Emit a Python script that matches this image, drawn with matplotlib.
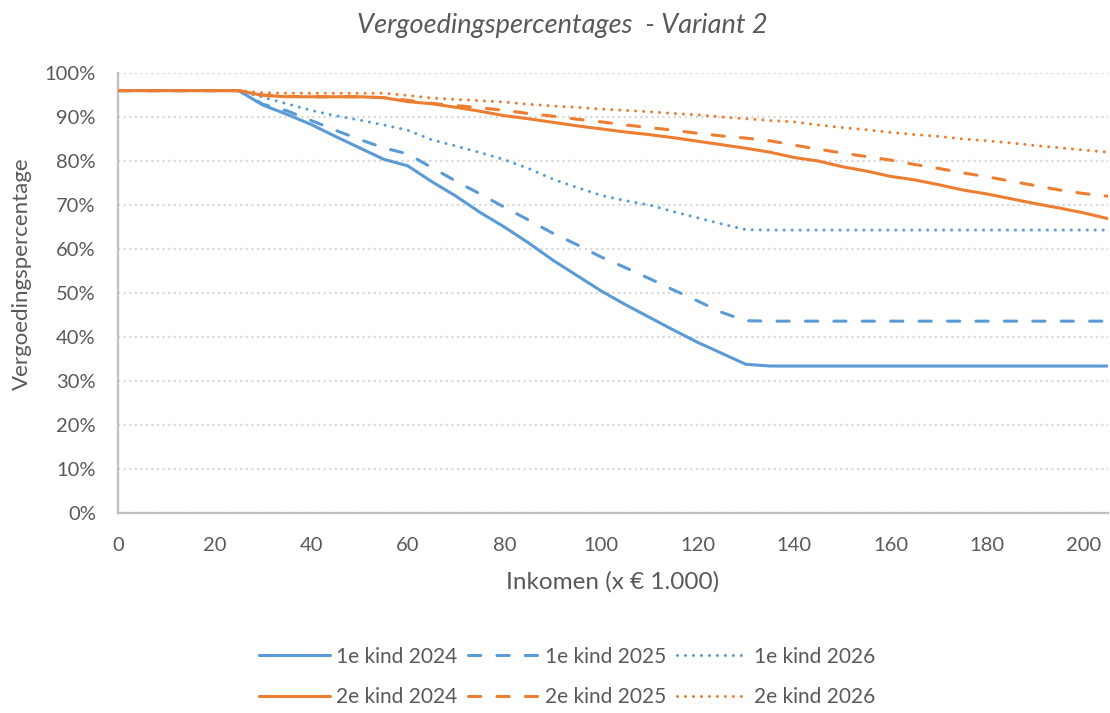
import matplotlib
matplotlib.use("Agg")
import matplotlib.pyplot as plt
from matplotlib.ticker import PercentFormatter, MultipleLocator

plt.rcParams['font.family'] = ['Lato', 'DejaVu Sans']

# Income (x € 1.000)
inkomen = [0, 25, 30, 35, 40, 45, 50, 55, 60, 65, 70, 75, 80, 85, 90, 95, 100,
           105, 110, 115, 120, 125, 130, 135, 140, 145, 150, 155, 160, 165,
           170, 175, 180, 185, 190, 195, 200, 205]

kind1_2024 = [96.0, 96.0, 92.7, 90.6, 88.3, 85.6, 83.0, 80.4, 78.9, 75.3, 72.0,
              68.3, 65.0, 61.4, 57.5, 54.0, 50.5, 47.4, 44.5, 41.6, 38.8, 36.3,
              33.8, 33.4, 33.4, 33.4, 33.4, 33.4, 33.4, 33.4, 33.4, 33.4, 33.4,
              33.4, 33.4, 33.4, 33.4, 33.4]
kind1_2025 = [96.0, 96.0, 92.9, 91.4, 89.2, 87.0, 84.9, 83.0, 81.6, 78.5, 75.4,
              72.5, 69.5, 66.6, 63.6, 61.0, 58.2, 55.8, 53.3, 50.7, 48.2, 45.6,
              43.7, 43.6, 43.6, 43.6, 43.6, 43.6, 43.6, 43.6, 43.6, 43.6, 43.6,
              43.6, 43.6, 43.6, 43.6, 43.6]
kind1_2026 = [96.0, 96.0, 94.5, 93.0, 91.5, 90.3, 89.3, 88.2, 87.0, 84.8, 83.4,
              81.9, 80.3, 78.3, 75.9, 74.0, 72.2, 71.0, 70.0, 68.5, 67.1, 65.7,
              64.4, 64.3, 64.3, 64.3, 64.3, 64.3, 64.3, 64.3, 64.3, 64.3, 64.3,
              64.3, 64.3, 64.3, 64.3, 64.3]
kind2_2024 = [96.0, 96.0, 94.9, 94.6, 94.6, 94.6, 94.6, 94.4, 93.5, 93.0, 92.2,
              91.3, 90.3, 89.6, 88.8, 88.0, 87.3, 86.6, 86.0, 85.3, 84.5, 83.7,
              82.9, 82.0, 80.8, 80.0, 78.7, 77.7, 76.5, 75.7, 74.6, 73.4, 72.5,
              71.4, 70.3, 69.3, 68.2, 66.9]
kind2_2025 = [96.0, 96.0, 95.0, 94.7, 94.6, 94.6, 94.6, 94.4, 93.8, 93.1, 92.6,
              92.1, 91.5, 90.8, 90.2, 89.5, 88.9, 88.2, 87.6, 87.0, 86.3, 85.7,
              85.2, 84.6, 83.6, 82.7, 81.8, 81.0, 80.2, 79.2, 78.3, 77.3, 76.4,
              75.4, 74.4, 73.4, 72.6, 72.0]
kind2_2026 = [96.0, 96.0, 95.5, 95.4, 95.4, 95.4, 95.4, 95.4, 94.9, 94.3, 94.0,
              93.7, 93.4, 92.9, 92.5, 92.2, 91.8, 91.5, 91.2, 90.8, 90.5, 90.0,
              89.6, 89.2, 88.9, 88.2, 87.6, 87.1, 86.5, 86.0, 85.6, 85.0, 84.6,
              84.1, 83.5, 83.0, 82.5, 82.0]

labels = ["1e kind 2024", "1e kind 2025", "1e kind 2026",
          "2e kind 2024", "2e kind 2025", "2e kind 2026"]
x_ticks = [0, 20, 40, 60, 80, 100, 120, 140, 160, 180, 200]

title = "Vergoedingspercentages  - Variant 2"
xlabel = "Inkomen (x € 1.000)"
ylabel = "Vergoedingspercentage"

BLUE = "#5B9BD5"
ORANGE = "#ED7D31"
TXT = "#595959"
GRID = "#D9D9D9"
SPINE = "#BFBFBF"

W, H = 1110, 713
fig = plt.figure(figsize=(W / 100, H / 100), dpi=100)
ax = fig.add_axes([118 / W, 1 - 513 / H, (1108 - 118) / W, (513 - 73) / H])

lw = 2.2
dash = (4.0, 5.3)
dot = (0.01, 2.6)
series = [kind1_2024, kind1_2025, kind1_2026, kind2_2024, kind2_2025, kind2_2026]
colors = [BLUE, BLUE, BLUE, ORANGE, ORANGE, ORANGE]
styles = [None, dash, dot, None, dash, dot]
handles = []
for ys, c, st, lab in zip(series, colors, styles, labels):
    if st is None:
        h, = ax.plot(inkomen, ys, color=c, lw=lw, label=lab,
                     solid_capstyle='round', solid_joinstyle='round', zorder=3)
    else:
        h, = ax.plot(inkomen, ys, color=c, lw=lw, label=lab,
                     dashes=st, dash_capstyle='round', zorder=3)
    handles.append(h)

ax.set_xlim(0, 205)
ax.set_ylim(0, 100)
ax.set_xticks(x_ticks)
ax.yaxis.set_major_locator(MultipleLocator(10))
ax.yaxis.set_major_formatter(PercentFormatter(100, decimals=0))
ax.grid(axis='y', color=GRID, linestyle=(0, (1, 1.5)), linewidth=1.6)
ax.set_axisbelow(True)
for s in ['top', 'right']:
    ax.spines[s].set_visible(False)
for s in ['left', 'bottom']:
    ax.spines[s].set_color(SPINE)
    ax.spines[s].set_linewidth(1.6)
ax.tick_params(axis='both', length=0, labelsize=14.5, colors=TXT)
ax.tick_params(axis='y', pad=16)
ax.tick_params(axis='x', pad=17)

ax.set_xlabel(xlabel, fontsize=17.5, color=TXT, va='center')
ax.xaxis.set_label_coords((613 - 118) / 990, (513 - 582) / 440)
ax.set_ylabel(ylabel, fontsize=16, color=TXT, va='center')
ax.yaxis.set_label_coords((22 - 118) / 990, (513 - 274) / 440)

fig.text(562 / W, 1 - 25 / H, title, ha='center', va='center',
         fontsize=19.5, style='italic', color=TXT)

order = [0, 3, 1, 4, 2, 5]
leg = fig.legend([handles[i] for i in order], [labels[i] for i in order],
                 ncol=3, loc='center',
                 bbox_to_anchor=(567 / W, 1 - 677 / H), frameon=False,
                 fontsize=15, handlelength=3.4, handletextpad=0.3,
                 columnspacing=0.5, labelspacing=1.0)
for t in leg.get_texts():
    t.set_color(TXT)

fig.savefig("out.png", dpi=100)
